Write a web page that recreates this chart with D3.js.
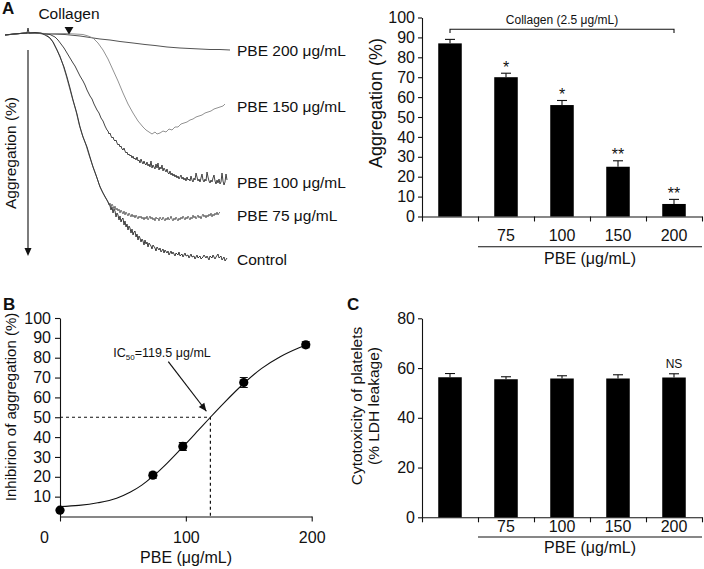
<!DOCTYPE html>
<html><head><meta charset="utf-8">
<script src="https://cdn.jsdelivr.net/npm/d3@7"></script>
<style>
body{margin:0;background:#fff}
svg text{font-family:"Liberation Sans",Arial,sans-serif;fill:#111}
</style>
</head><body>
<svg id="fig" width="704" height="569"></svg>
<script>
// ---------------- DATA ----------------
// Panel A (left): aggregometer traces, [time (a.u.), light-transmission drop (a.u.)]
const traceLabels = ["PBE 200 \u03bcg/mL","PBE 150 \u03bcg/mL","PBE 100 \u03bcg/mL","PBE 75 \u03bcg/mL","Control"];
const traceLabelLevels = [16, 72, 148, 181, 225];
const trace200 = [[0,1],[10,0],[20,-1],[30,-1],[45,0],[60,0.5],[75,2],[85,3.5],[95,5],[105,6],[115,7.5],[128,9],[140,10.5],[150,11.5],[162,13],[175,14],[185,14.5],[195,15],[205,15.5],[215,15.5],[225,16]];
const trace150 = [[0,1],[10,0],[20,-1],[30,-1],[40,-0.5],[50,-0.5],[60,-0.5],[70,0],[78,0.5],[83,2],[88,4],[93,9],[98,16],[103,25],[108,36],[113,47],[118,59],[123,70],[128,79],[133,87],[138,93],[141,96],[144,98],[147,100],[150,98],[152,100],[155,99],[158,97],[161,98],[164,95],[167,96],[170,93],[173,93],[176,90],[179,89],[182,88],[185,86],[188,85],[191,83],[194,82],[197,81],[200,79],[203,78],[206,77],[209,75],[212,74],[215,73],[218,72],[220,70]];
const trace100 = [[0,1],[10,0],[20,-1],[30,-1],[40,0],[45,0.5],[50,3],[53,6],[56,10],[59,14],[62,19],[65,24],[68,29],[70,32],[72,36],[75,42],[78,47],[80,51],[82,56],[85,62],[87,65],[89,70],[92,76],[94,79],[96,84],[98,87],[100,92],[102,96],[103,97],[104,100],[105,99],[106,102],[107,104],[108,103],[109,106],[110,107],[111,106],[112,109],[113,111],[114,110],[115,113],[116,112],[117,115],[118,116],[119,114],[120,117],[121,119],[122,118],[123,121],[124,120],[125,122],[126,121],[127,124],[128,122],[129,125],[130,124],[131,126],[132,123],[133,127],[134,126],[135,129],[136,125],[137,128],[138,130],[139,127],[140,130],[141,131],[142,128],[143,132],[144,130],[145,133],[146,127],[147,134],[148,131],[149,133],[150,135],[151,130],[152,134],[153,129],[154,136],[155,133],[156,135],[157,131],[158,137],[159,134],[160,136],[161,138],[162,135],[163,139],[164,140],[165,137],[166,141],[167,139],[168,142],[169,140],[170,143],[171,141],[172,144],[173,142],[174,145],[175,143],[176,141],[177,145],[178,143],[179,146],[180,144],[181,147],[182,143],[183,146],[184,145],[185,147],[186,142],[187,146],[188,148],[189,144],[190,146],[191,139],[192,143],[193,147],[194,145],[195,148],[196,144],[197,140],[198,146],[199,148],[200,145],[201,147],[202,138],[203,143],[204,147],[205,149],[206,146],[207,148],[208,144],[209,141],[210,147],[211,150],[212,146],[213,149],[214,145],[215,150],[216,148],[217,139],[218,147],[219,151],[220,148],[221,140],[222,146]];
const trace75 = [[0,1],[10,0],[20,-1],[30,-1],[40,0],[44,3],[48,8],[51,14],[55,22],[58,31],[61,41],[64,52],[67,63],[71,77],[74,90],[77,100],[81,111],[84,121],[87,130],[91,141],[94,150],[97,157],[100,163],[103,168],[104,171],[105,169],[106,173],[107,170],[108,172],[109,175],[110,172],[111,176],[112,174],[113,177],[114,175],[115,179],[116,176],[117,178],[118,180],[119,177],[120,181],[121,178],[122,180],[123,182],[124,179],[125,181],[126,183],[127,180],[128,183],[129,181],[130,184],[131,181],[132,183],[133,185],[134,182],[135,184],[136,182],[137,185],[138,183],[139,186],[140,183],[141,185],[142,182],[143,186],[144,184],[145,182],[146,185],[147,183],[148,186],[149,184],[150,187],[151,183],[152,185],[153,184],[154,187],[155,183],[156,185],[157,186],[158,183],[159,185],[160,187],[161,184],[162,186],[163,183],[164,186],[165,185],[166,182],[167,185],[168,187],[169,184],[170,186],[171,183],[172,185],[173,187],[174,184],[175,186],[176,183],[177,185],[178,182],[179,184],[180,186],[181,183],[182,185],[183,182],[184,184],[185,186],[186,183],[187,185],[188,181],[189,184],[190,182],[191,185],[192,183],[193,181],[194,184],[195,182],[196,185],[197,182],[198,180],[199,183],[200,181],[201,184],[202,181],[203,183],[204,180],[205,182],[206,179],[207,183],[208,180],[209,182],[210,179],[211,181],[212,178],[213,181],[214,179],[215,178]];
const traceControl = [[0,1],[8,0],[15,-0.5],[22,-1],[23,-6],[24,-1],[30,-1.5],[36,-1],[40,1],[45,4],[48,8],[52,16],[55,23],[59,33],[62,43],[65,54],[68,66],[72,80],[75,93],[78,103],[82,113],[85,123],[88,133],[92,144],[95,153],[98,159],[102,166],[105,172],[106,176],[107,173],[108,179],[109,175],[110,177],[111,183],[112,179],[113,181],[114,186],[115,182],[116,188],[117,185],[118,184],[119,191],[120,187],[121,193],[122,190],[123,196],[124,192],[125,194],[126,199],[127,195],[128,201],[129,198],[130,197],[131,203],[132,200],[133,206],[134,202],[135,204],[136,208],[137,205],[138,207],[139,211],[140,206],[141,210],[142,208],[143,213],[144,209],[146,212],[147,215],[148,211],[150,214],[151,217],[152,213],[154,216],[155,214],[156,218],[158,215],[159,219],[160,216],[162,219],[163,217],[164,221],[166,217],[167,220],[168,218],[170,222],[171,219],[173,221],[174,218],[175,222],[177,220],[178,223],[180,219],[181,222],[183,221],[184,224],[186,220],[187,223],[189,222],[190,225],[192,221],[193,224],[195,222],[196,225],[198,223],[199,221],[201,224],[202,222],[204,226],[205,222],[207,224],[208,221],[210,225],[211,223],[213,220],[214,224],[216,222],[217,226],[219,223],[220,227],[222,224]];
const collagenTime = 64;

// Panel A (right) and C: bar groups
const barGroups = ["Control","75","100","150","200"];
const doseLabels = ["","75","100","150","200"];
const aggValues = [87, 70, 56, 25, 6.3];
const aggErrors = [2, 2, 2.3, 3, 2.3];
const aggMarks = ["","*","*","**","**"];
const aggTicks = [0,10,20,30,40,50,60,70,80,90,100];
const ldhValues = [56.3, 55.5, 55.8, 55.8, 56.2];
const ldhErrors = [1.5, 1.0, 1.1, 1.5, 1.5];
const ldhMarks = ["","","","","NS"];
const ldhTicks = [0,20,40,60,80];

// Panel B: dose-response
const inhDose = [0, 73.8, 97.6, 146, 195.3];
const inhValues = [3.2, 20.8, 35.3, 67.5, 86.5];
const inhErrors = [0, 1.5, 2, 2.5, 1.5];
const fitDose = [0, 15, 30, 45, 56, 65, 74, 85, 97.5, 110, 119.5, 130, 146, 160, 175, 190, 197];
const fitValues = [5, 5.6, 6.9, 9.2, 12.3, 15.8, 20.3, 26.8, 35, 43.5, 50, 57, 67, 74.5, 80.5, 85, 86.8];
const ic50 = 119.5;
const inhYTicks = [10,20,30,40,50,60,70,80,90,100];
const inhXTicks = [0,100,200];

// ---------------- DRAW ----------------
const svg = d3.select("#fig");
const FS = 16;

function label(g, txt, x, y, opt = {}) {
  return g.append("text").attr("x", x).attr("y", y)
    .attr("font-size", opt.size || FS)
    .attr("text-anchor", opt.anchor || "start")
    .attr("font-weight", opt.bold ? "bold" : "normal")
    .text(txt);
}
function vlabel(g, txt, x, y, size) {
  g.append("text").attr("transform", `translate(${x},${y}) rotate(-90)`)
    .attr("text-anchor", "middle").attr("dominant-baseline", "central")
    .attr("font-size", size || FS).text(txt);
}
function styleAxis(sel) {
  sel.select(".domain").attr("stroke", "#111").attr("stroke-width", 1.1);
  sel.selectAll(".tick line").attr("stroke", "#111").attr("stroke-width", 1.1);
  sel.selectAll(".tick text").attr("font-size", FS).attr("fill", "#111")
    .attr("font-family", '"Liberation Sans",Arial,sans-serif');
}

// Panel letters
label(svg, "A", 2, 14, {bold: true, size: 17});
label(svg, "B", 3, 310, {bold: true, size: 17});
label(svg, "C", 347, 310, {bold: true, size: 17});

// ---- Panel A left: traces
const gA = svg.append("g");
const xT = d3.scaleLinear().domain([0, 225]).range([5, 230]);
const yT = d3.scaleLinear().domain([0, 230]).range([34, 264]);
const lineT = d3.line().x(d => xT(d[0])).y(d => yT(d[1]));
const traces = [trace200, trace150, trace100, trace75, traceControl];
const traceColors = ["#4a4a4a", "#8c8c8c", "#3a3a3a", "#6e6e6e", "#333"];
traces.forEach((tr, i) => {
  gA.append("path").attr("d", lineT(tr)).attr("fill", "none")
    .attr("stroke", traceColors[i]).attr("stroke-width", 0.95).attr("stroke-linejoin", "round");
});
traceLabels.forEach((t, i) => {
  label(gA, t, 237, yT(traceLabelLevels[i]) + 5.5, {size: 15.5});
});
label(gA, "Collagen", 69, 19, {anchor: "middle", size: 15.5});
gA.append("path").attr("d", d3.symbol(d3.symbolTriangle, 34)())
  .attr("transform", `translate(${xT(collagenTime)},${29.5}) rotate(180)`).attr("fill", "#111");
// aggregation arrow
gA.append("line").attr("x1", 28).attr("x2", 28).attr("y1", 50).attr("y2", 250)
  .attr("stroke", "#111").attr("stroke-width", 1.1);
gA.append("path").attr("d", "M24.5,248 L31.5,248 L28,256 Z").attr("fill", "#111");
vlabel(gA, "Aggregation (%)", 10, 153, 15.5);

// ---- bar chart helper (A right and C)
function barChart(g, values, errors, marks, ticks, yTop, yBottom, maxV, labelY, lineY, titleY) {
  const x0 = 422, x1 = 702;
  const xB = d3.scaleBand().domain(barGroups).range([x0, x1]).paddingInner(0).paddingOuter(0);
  const xEdge = d3.scaleLinear().domain([0, barGroups.length]).range([x0, x1]);
  const y = d3.scaleLinear().domain([0, maxV]).range([yBottom, yTop]);
  const bw = xB.bandwidth() * 0.42;
  g.append("g").attr("transform", `translate(${x0},0)`)
    .call(d3.axisLeft(y).tickValues(ticks).tickSize(4).tickPadding(3).tickSizeOuter(0))
    .call(styleAxis);
  g.append("g").attr("transform", `translate(0,${yBottom})`)
    .call(d3.axisBottom(xEdge).tickValues(d3.range(0, barGroups.length + 1)).tickFormat("").tickSize(5).tickSizeOuter(0))
    .call(styleAxis);
  const cx = d => xB(d) + xB.bandwidth() / 2;
  g.selectAll("rect.bar").data(barGroups).join("rect")
    .attr("x", d => cx(d) - bw / 2).attr("width", bw)
    .attr("y", (d, i) => y(values[i])).attr("height", (d, i) => yBottom - y(values[i]))
    .attr("fill", "#000");
  barGroups.forEach((d, i) => {
    const top = y(values[i] + errors[i]);
    g.append("line").attr("x1", cx(d)).attr("x2", cx(d)).attr("y1", y(values[i])).attr("y2", top)
      .attr("stroke", "#111").attr("stroke-width", 1.1);
    g.append("line").attr("x1", cx(d) - 5).attr("x2", cx(d) + 5).attr("y1", top).attr("y2", top)
      .attr("stroke", "#111").attr("stroke-width", 1.1);
    if (marks[i]) {
      if (marks[i] === "NS") label(g, marks[i], cx(d), top - 6, {anchor: "middle", size: 12});
      else label(g, marks[i], cx(d), top - 0.5, {anchor: "middle", size: 16});
    }
    if (doseLabels[i]) label(g, doseLabels[i], cx(d), labelY, {anchor: "middle"});
  });
  g.append("line").attr("x1", xEdge(1)).attr("x2", x1).attr("y1", lineY).attr("y2", lineY)
    .attr("stroke", "#111").attr("stroke-width", 1.1);
  label(g, "PBE (\u03bcg/mL)", (xEdge(1) + x1) / 2, titleY, {anchor: "middle"});
  return {xB, y, cx};
}

// ---- Panel A right
const gAR = svg.append("g");
const aR = barChart(gAR, aggValues, aggErrors, aggMarks, aggTicks, 17.5, 216.5, 100, 241, 246.7, 264);
vlabel(gAR, "Aggregation (%)", 376, 103, 18);
{
  const xa = aR.cx(barGroups[0]), xb = aR.cx(barGroups[4]);
  gAR.append("path").attr("d", `M${xa},33 L${xa},29.3 L${xb},29.3 L${xb},33`)
    .attr("fill", "none").attr("stroke", "#111").attr("stroke-width", 1.1);
  label(gAR, "Collagen (2.5 \u03bcg/mL)", (xa + xb) / 2, 24, {anchor: "middle", size: 12});
}

// ---- Panel C
const gC = svg.append("g");
barChart(gC, ldhValues, ldhErrors, ldhMarks, ldhTicks, 318.3, 517.3, 80, 532, 537, 553);
vlabel(gC, "Cytotoxicity of platelets", 356, 406, 15.5);
vlabel(gC, "(% LDH leakage)", 373, 406, 15.5);

// ---- Panel B
const gB = svg.append("g");
const xD = d3.scaleLinear().domain([0, 200]).range([60, 311.7]);
const yI = d3.scaleLinear().domain([0, 100]).range([516.5, 318]);
gB.append("g").attr("transform", "translate(60,0)")
  .call(d3.axisLeft(yI).tickValues(inhYTicks).tickSize(5).tickPadding(4).tickSizeOuter(0))
  .call(styleAxis);
gB.append("g").attr("transform", `translate(0,${yI(0)})`)
  .call(d3.axisBottom(xD).tickValues(inhXTicks).tickSize(5).tickPadding(10).tickSizeOuter(0))
  .call(styleAxis)
  .call(s => s.selectAll(".tick text").filter(d => d === 0).attr("dx", -16));
label(gB, "PBE (\u03bcg/mL)", 186, 563, {anchor: "middle"});
vlabel(gB, "Inhibirion of aggregation (%)", 10, 407, 15);
// dashed IC50 guides
gB.append("path").attr("d", `M${xD(0)},${yI(50)} L${xD(ic50)},${yI(50)} L${xD(ic50)},${yI(0)}`)
  .attr("fill", "none").attr("stroke", "#111").attr("stroke-width", 1.2).attr("stroke-dasharray", "3,3");
// fitted curve
gB.append("path").attr("d", d3.line().x((d, i) => xD(fitDose[i])).y(d => yI(d)).curve(d3.curveMonotoneX)(fitValues))
  .attr("fill", "none").attr("stroke", "#111").attr("stroke-width", 1.1);
// error bars and points
inhDose.forEach((d, i) => {
  if (inhErrors[i] > 0) {
    const t = yI(inhValues[i] + inhErrors[i]), b = yI(inhValues[i] - inhErrors[i]);
    gB.append("path").attr("d", `M${xD(d) - 4},${t} L${xD(d) + 4},${t} M${xD(d)},${t} L${xD(d)},${b} M${xD(d) - 4},${b} L${xD(d) + 4},${b}`)
      .attr("stroke", "#111").attr("stroke-width", 1.1).attr("fill", "none");
  }
  gB.append("circle").attr("cx", xD(d)).attr("cy", yI(inhValues[i])).attr("r", 4.6).attr("fill", "#000");
});
// annotation arrow
{
  const sx = 168.3, sy = 361.7, ex = xD(ic50) - 4, ey = yI(50) - 6;
  gB.append("line").attr("x1", sx).attr("y1", sy).attr("x2", ex).attr("y2", ey)
    .attr("stroke", "#111").attr("stroke-width", 1.2);
  const ang = Math.atan2(ey - sy, ex - sx);
  const L = 8, W = 3.5;
  const bx = ex - L * Math.cos(ang), by = ey - L * Math.sin(ang);
  gB.append("path").attr("d", `M${ex},${ey} L${bx + W * Math.sin(ang)},${by - W * Math.cos(ang)} L${bx - W * Math.sin(ang)},${by + W * Math.cos(ang)} Z`)
    .attr("fill", "#111");
  const t = gB.append("text").attr("x", 162).attr("y", 357).attr("text-anchor", "middle").attr("font-size", 12.5);
  t.append("tspan").text("IC");
  t.append("tspan").attr("font-size", 8).attr("dy", 3).text("50");
  t.append("tspan").attr("dy", -3).text("=" + ic50 + " \u03bcg/mL");
}
</script>
</body></html>
